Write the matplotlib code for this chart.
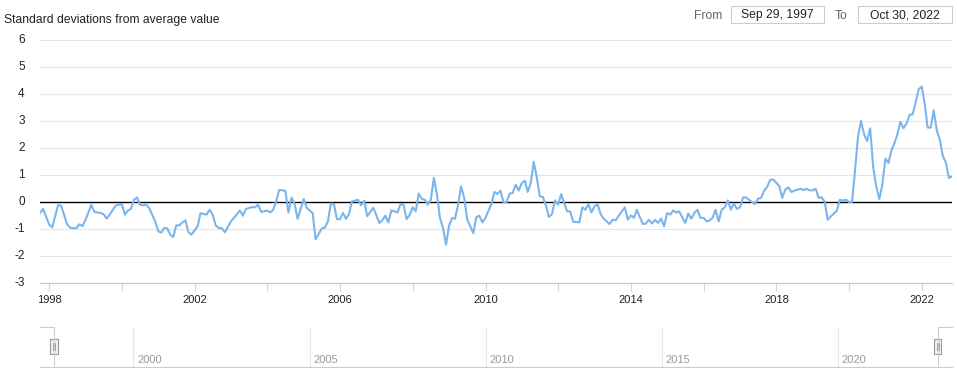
import matplotlib.pyplot as plt
import matplotlib.transforms as mtransforms
from matplotlib.lines import Line2D
from matplotlib.patches import Rectangle
import pandas as pd

plt.rcParams['font.family'] = ['Liberation Sans', 'DejaVu Sans']

# month of each reading (month-end) and value in standard deviations
months = [
    "1997-09", "1997-10", "1997-12",
    "1998-01", "1998-03", "1998-04", "1998-06", "1998-07", "1998-09", "1998-10", "1998-11", "1998-12",
    "1999-02", "1999-03", "1999-05", "1999-06", "1999-07", "1999-08", "1999-10", "1999-12",
    "2000-01", "2000-02", "2000-03", "2000-04", "2000-05", "2000-06", "2000-07", "2000-08", "2000-09", "2000-11", "2000-12",
    "2001-01", "2001-02", "2001-03", "2001-04", "2001-05", "2001-06", "2001-07", "2001-08", "2001-09", "2001-10", "2001-11",
    "2002-01", "2002-02", "2002-04", "2002-05", "2002-06", "2002-07", "2002-08", "2002-09", "2002-10", "2002-12",
    "2003-01", "2003-03", "2003-04", "2003-05", "2003-07", "2003-08", "2003-09", "2003-10", "2003-12",
    "2004-01", "2004-02", "2004-03", "2004-04", "2004-06", "2004-07", "2004-08", "2004-09", "2004-10", "2004-12",
    "2005-01", "2005-03", "2005-04", "2005-06", "2005-07", "2005-08", "2005-09", "2005-10", "2005-11", "2005-12",
    "2006-01", "2006-02", "2006-03", "2006-04", "2006-06", "2006-07", "2006-08", "2006-09", "2006-11",
    "2007-01", "2007-02", "2007-03", "2007-04", "2007-05", "2007-07", "2007-08", "2007-09", "2007-10", "2007-11", "2007-12",
    "2008-01", "2008-02", "2008-03", "2008-04", "2008-05", "2008-06", "2008-07", "2008-08", "2008-09", "2008-10", "2008-11", "2008-12",
    "2009-01", "2009-02", "2009-03", "2009-04", "2009-05", "2009-06", "2009-08", "2009-09", "2009-10", "2009-11", "2009-12",
    "2010-01", "2010-02", "2010-03", "2010-04", "2010-05", "2010-06", "2010-07", "2010-08", "2010-09", "2010-10", "2010-11", "2010-12",
    "2011-01", "2011-02", "2011-03", "2011-04", "2011-05", "2011-06", "2011-07", "2011-08", "2011-09", "2011-10", "2011-11", "2011-12",
    "2012-01", "2012-02", "2012-03", "2012-04", "2012-05", "2012-06", "2012-07", "2012-08", "2012-09", "2012-10", "2012-11", "2012-12",
    "2013-01", "2013-02", "2013-03", "2013-05", "2013-06", "2013-07", "2013-08", "2013-10", "2013-11", "2013-12",
    "2014-01", "2014-02", "2014-03", "2014-04", "2014-05", "2014-06", "2014-07", "2014-08", "2014-09", "2014-10", "2014-11", "2014-12",
    "2015-01", "2015-02", "2015-03", "2015-04", "2015-05", "2015-06", "2015-07", "2015-08", "2015-09", "2015-10", "2015-11", "2015-12",
    "2016-01", "2016-02", "2016-03", "2016-04", "2016-05", "2016-06", "2016-07", "2016-08", "2016-09", "2016-10", "2016-11", "2016-12",
    "2017-01", "2017-02", "2017-03", "2017-05", "2017-06", "2017-07", "2017-08", "2017-09", "2017-10", "2017-11", "2017-12",
    "2018-01", "2018-02", "2018-03", "2018-04", "2018-05", "2018-06", "2018-08", "2018-09", "2018-10", "2018-11", "2018-12",
    "2019-01", "2019-02", "2019-03", "2019-04", "2019-05", "2019-06", "2019-07", "2019-08", "2019-09", "2019-10", "2019-11", "2019-12",
    "2020-01", "2020-02", "2020-03", "2020-04", "2020-05", "2020-06", "2020-07", "2020-08", "2020-09", "2020-10", "2020-11", "2020-12",
    "2021-01", "2021-02", "2021-03", "2021-04", "2021-05", "2021-06", "2021-07", "2021-08", "2021-09", "2021-10", "2021-11", "2021-12",
    "2022-01", "2022-02", "2022-03", "2022-04", "2022-05", "2022-06", "2022-07", "2022-08", "2022-09", "2022-10",
]
values = [
    -0.42, -0.27, -0.85,
    -0.95, -0.12, -0.15, -0.85, -0.97, -0.99, -0.84, -0.91, -0.67,
    -0.12, -0.38, -0.42, -0.46, -0.63, -0.48, -0.14, -0.09,
    -0.48, -0.33, -0.27, 0.07, 0.16, -0.11, -0.14, -0.11, -0.23, -0.73, -1.10,
    -1.15, -0.98, -0.99, -1.22, -1.31, -0.88, -0.88, -0.77, -0.70, -1.14, -1.22,
    -0.91, -0.43, -0.48, -0.30, -0.48, -0.88, -0.98, -0.98, -1.14, -0.73,
    -0.60, -0.33, -0.52, -0.27, -0.20, -0.21, -0.11, -0.38, -0.33,
    -0.40, -0.30, 0.04, 0.44, 0.40, -0.40, 0.15, -0.07, -0.64, 0.10,
    -0.23, -0.42, -1.40, -1.00, -0.96, -0.74, -0.07, -0.09, -0.65, -0.65,
    -0.42, -0.64, -0.46, 0.01, 0.07, -0.14, 0.04, -0.54, -0.23,
    -0.79, -0.69, -0.52, -0.77, -0.32, -0.40, -0.09, -0.11, -0.65, -0.50, -0.21,
    -0.36, 0.30, 0.11, 0.07, -0.11, 0.07, 0.88, 0.26, -0.60, -0.98, -1.60, -0.88,
    -0.60, -0.64, -0.11, 0.57, 0.14, -0.65, -1.17, -0.58, -0.52, -0.77, -0.60,
    -0.33, -0.09, 0.36, 0.28, 0.41, -0.02, -0.02, 0.30, 0.32, 0.63, 0.41, 0.69,
    0.78, 0.36, 0.69, 1.48, 0.90, 0.20, 0.17, -0.15, -0.57, -0.46, 0.05, -0.11,
    0.28, -0.05, -0.36, -0.36, -0.75, -0.75, -0.77, -0.21, -0.30, -0.09, -0.40, -0.17,
    -0.09, -0.44, -0.63, -0.83, -0.67, -0.69, -0.52, -0.21, -0.67, -0.51,
    -0.60, -0.30, -0.57, -0.83, -0.81, -0.67, -0.81, -0.67, -0.79, -0.63, -0.91, -0.42,
    -0.48, -0.33, -0.40, -0.36, -0.58, -0.79, -0.44, -0.63, -0.42, -0.30, -0.60, -0.60,
    -0.73, -0.70, -0.60, -0.30, -0.73, -0.30, -0.21, 0.05, -0.30, -0.07, -0.27, -0.21,
    0.16, 0.16, 0.07, -0.09, 0.11, 0.14, 0.41, 0.55, 0.81, 0.82, 0.70,
    0.57, 0.14, 0.45, 0.53, 0.36, 0.41, 0.48, 0.43, 0.48, 0.42, 0.42,
    0.48, 0.14, 0.16, 0.01, -0.67, -0.55, -0.45, -0.34, 0.07, 0.04, 0.07, -0.01,
    -0.01, 1.13, 2.43, 3.00, 2.50, 2.25, 2.72, 1.25, 0.57, 0.10, 0.63, 1.60,
    1.44, 1.88, 2.16, 2.50, 2.96, 2.72, 2.90, 3.22, 3.24, 3.68, 4.17, 4.27,
    3.61, 2.75, 2.75, 3.39, 2.65, 2.31, 1.69, 1.44, 0.88, 0.94,
]
y_ticks = [-3, -2, -1, 0, 1, 2, 3, 4, 5, 6]
main_years = list(range(1998, 2023, 2))
nav_years = [2000, 2005, 2010, 2015, 2020]
range_from = "Sep 29, 1997"
range_to = "Oct 30, 2022"

W, H = 957, 368
fig = plt.figure(figsize=(W / 100, H / 100), dpi=100)


def fx(px):
    return px / W


def fy(py):
    return 1 - py / H


x = pd.to_datetime(months) + pd.offsets.MonthEnd(0)

# main chart
ax = fig.add_axes([fx(40), fy(282.5), (952 - 40) / W, (282.5 - 40) / H])
ax.set_xlim(x[0], x[-1])
ax.set_ylim(-3, 6)
for t in y_ticks[1:]:
    if t == 0:
        continue
    ax.axhline(t, color='#e6e6e6', lw=0.8, zorder=0)
ax.axhline(0, color='black', lw=1.0, zorder=1)
ax.plot(x, values, color='#7cb5ec', lw=1.5, zorder=2, solid_joinstyle='round')

for s in ['top', 'right', 'left']:
    ax.spines[s].set_visible(False)
ax.spines['bottom'].set_color('#c6c6c6')
ax.spines['bottom'].set_linewidth(0.8)

ax.set_yticks(y_ticks)
ax.set_yticklabels([str(t) for t in y_ticks])
ax.tick_params(axis='y', length=0, pad=11, labelsize=8.5, labelcolor='#222222')

tick_dates = pd.to_datetime([f"{yr}-01-01" for yr in main_years])
ax.set_xticks(tick_dates)
ax.set_xticklabels([str(yr) if (yr - 1998) % 4 == 0 else '' for yr in main_years])
ax.tick_params(axis='x', length=6, width=0.8, color='#ccd6eb', pad=3,
               labelsize=8, labelcolor='#222222')
for lbl in ax.get_yticklabels():
    lbl.set_verticalalignment('center')

fig.text(fx(3.5), fy(20), 'Standard deviations from average value',
         ha='left', va='center', fontsize=8.7, color='#222222')

# range inputs
fig.text(fx(708), fy(16), 'From', ha='center', va='center', fontsize=8.7, color='#666666')
fig.text(fx(841.5), fy(16), 'To', ha='center', va='center', fontsize=8.7, color='#666666')
for left, right, txt in [(731, 824, range_from), (858, 952, range_to)]:
    fig.patches.append(Rectangle((fx(left), fy(23)), (right - left) / W, 17 / H,
                                 transform=fig.transFigure, facecolor='white',
                                 edgecolor='#cccccc', lw=0.8))
    fig.text(fx((left + right) / 2), fy(15), txt, ha='center', va='center',
             fontsize=8.7, color='#222222')

# navigator
nav_left, nav_right, nav_top, nav_bottom = 54, 937.5, 327, 367
nav = fig.add_axes([fx(nav_left), fy(nav_bottom), (nav_right - nav_left) / W,
                    (nav_bottom - nav_top) / H])
nav.set_xlim(x[0], x[-1])
nav.set_ylim(0, 1)
nav.axis('off')
lab_tr = mtransforms.offset_copy(
    mtransforms.blended_transform_factory(nav.transData, nav.transAxes),
    fig=fig, x=4, y=0, units='dots')
for yr in nav_years:
    d = pd.Timestamp(f"{yr}-01-01")
    nav.axvline(d, color='#e6e6e6', lw=0.8)
    nav.text(d, 0.1, str(yr), transform=lab_tr, ha='left', va='baseline',
             fontsize=8, color='#999999')

outline = [
    ([40, nav_left, nav_left], [nav_top, nav_top, nav_bottom]),
    ([40, 952], [nav_bottom, nav_bottom]),
    ([nav_right, nav_right, 952], [nav_bottom, nav_top, nav_top]),
]
for xs, ys in outline:
    fig.lines.append(Line2D([fx(v) for v in xs], [fy(v) for v in ys],
                            transform=fig.transFigure, color='#cccccc', lw=0.8))

for hx in [nav_left, nav_right]:
    fig.patches.append(Rectangle((fx(hx - 3.8), fy(354)), 7.6 / W, 15 / H,
                                 transform=fig.transFigure, facecolor='#f2f2f2',
                                 edgecolor='#999999', lw=0.8))
    for dx in [-1, 1]:
        fig.lines.append(Line2D([fx(hx + dx), fx(hx + dx)], [fy(343), fy(350)],
                                transform=fig.transFigure, color='#999999', lw=0.6))

fig.savefig('out.png', dpi=100)
